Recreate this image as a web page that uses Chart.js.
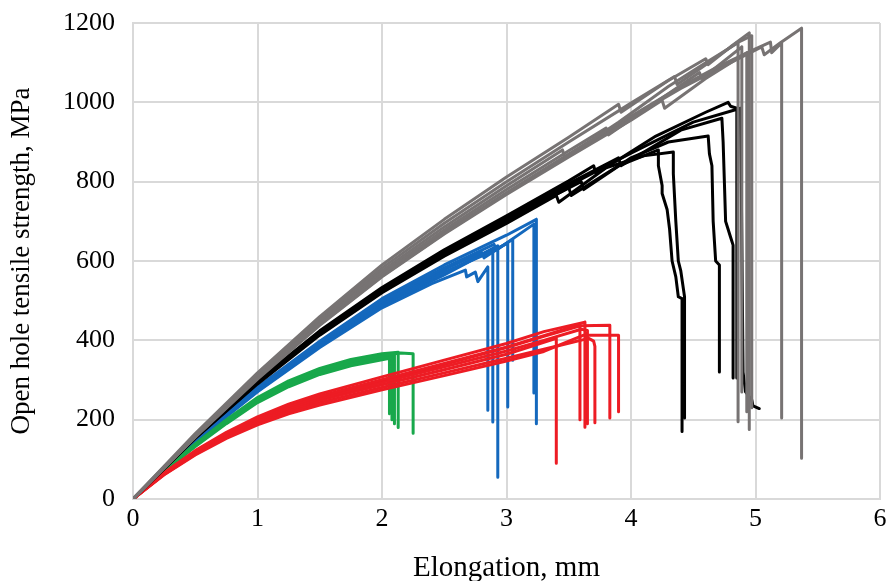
<!DOCTYPE html>
<html><head><meta charset="utf-8">
<script src="https://cdn.jsdelivr.net/npm/chart.js@4/dist/chart.umd.min.js"></script>
<style>html,body{margin:0;padding:0;background:#fff;}#wrap{width:889px;height:581px;position:relative;}</style>
</head><body><div id="wrap"><canvas id="c"></canvas></div>
<script>
// Axis ranges / tick steps
const xRange = [0, 6, 1];
const yRange = [0, 1200, 200];
const xTitle = 'Elongation, mm';
const yTitle = 'Open hole tensile strength, MPa';

// Gray specimens [elongation mm, strength MPa]
const gray1 = [[0,0],[0.5,165],[1,318],[1.5,460],[2,590],[2.5,705],[3,812],[3.5,912],[3.9,995],[3.92,975],[4.3,1055],[4.6,1110],[4.62,1095],[4.8,1140],[4.95,1175],[4.95,175]];
const gray2 = [[0,0],[0.5,162],[1,314],[1.5,455],[2,582],[2.5,695],[3,800],[3.5,900],[4,998],[4.35,1065],[4.37,1045],[4.6,1095],[4.85,1150],[4.97,1168],[4.97,230]];
const gray3 = [[0,0],[0.5,160],[1,310],[1.5,450],[2,575],[2.5,686],[3,790],[3.45,880],[3.47,860],[3.9,950],[4.3,1040],[4.6,1100],[4.86,1150],[4.86,195]];
const gray4 = [[0,0],[0.5,158],[1,306],[1.5,444],[2,568],[2.5,678],[3,780],[3.5,878],[3.8,935],[3.82,918],[4.2,1000],[4.55,1075],[4.57,1060],[4.89,1140],[4.89,270]];
const gray5 = [[0,0],[0.5,156],[1,302],[1.5,438],[2,560],[2.5,668],[3,768],[3.5,862],[4,955],[4.25,1005],[4.27,985],[4.6,1060],[4.93,1125],[4.93,220]];
const gray6 = [[0,0],[0.5,158],[1,305],[1.5,442],[2,565],[2.5,672],[3,772],[3.5,870],[4,965],[4.4,1040],[4.7,1090],[5,1135],[5.12,1152],[5.13,1125],[5.21,1150],[5.21,204]];
const gray7 = [[0,0],[0.5,157],[1,304],[1.5,440],[2,562],[2.5,670],[3,770],[3.5,868],[4,962],[4.4,1035],[4.8,1100],[5.05,1140],[5.07,1120],[5.2,1150],[5.37,1187],[5.37,103]];

// Black specimens
const black1 = [[0,0],[0.5,154],[1,292],[1.5,416],[2,523],[2.5,616],[3,700],[3.5,785],[3.52,765],[3.9,840],[4.22,880],[4.22,840],[4.25,790],[4.25,770],[4.29,730],[4.31,680],[4.33,600],[4.36,560],[4.38,510],[4.41,505],[4.41,170]];
const black2 = [[0,0],[0.5,153],[1,290],[1.5,413],[2,520],[2.5,612],[3,695],[3.4,765],[3.42,748],[3.8,835],[4.1,865],[4.34,875],[4.34,820],[4.36,700],[4.38,600],[4.4,575],[4.43,510],[4.43,204]];
const black3 = [[0,0],[0.5,155],[1,294],[1.5,418],[2,526],[2.5,619],[3,704],[3.6,800],[3.62,780],[4,860],[4.3,900],[4.62,915],[4.63,870],[4.65,840],[4.66,700],[4.68,600],[4.71,590],[4.71,320]];
const black4 = [[0,0],[0.5,156],[1,296],[1.5,421],[2,529],[2.5,623],[3,709],[3.5,795],[3.9,860],[3.92,840],[4.4,930],[4.73,960],[4.74,900],[4.76,700],[4.78,680],[4.8,660],[4.82,640],[4.82,305]];
const black5 = [[0,0],[0.5,157],[1,298],[1.5,424],[2,533],[2.5,628],[3,714],[3.5,802],[3.7,840],[3.72,820],[4.2,915],[4.6,975],[4.78,1000],[4.8,990],[4.85,985],[4.85,305]];
const black6 = [[0,0],[0.5,155],[1,293],[1.5,418],[2,525],[2.5,618],[3,702],[3.5,790],[4,872],[4.5,950],[4.88,985],[4.9,320],[4.92,270],[4.97,250],[4.98,235],[5.03,228]];

// Red specimens
const red1 = [[0,0],[0.25,66],[0.5,122],[0.75,168],[1,207],[1.25,239],[1.5,265],[2,308],[2.5,350],[3,392],[3.3,422],[3.63,446],[3.63,181]];
const red2 = [[0,0],[0.25,65],[0.5,120],[0.75,165],[1,203],[1.25,234],[1.5,259],[2,301],[2.5,342],[3,383],[3.3,412],[3.59,440],[3.59,200]];
const red3 = [[0,0],[0.25,64],[0.5,118],[0.75,162],[1,199],[1.25,229],[1.5,254],[2,294],[2.5,333],[3,373],[3.3,400],[3.6,428],[3.65,425],[3.65,190]];
const red4 = [[0,0],[0.25,63],[0.5,116],[0.75,159],[1,195],[1.25,225],[1.5,249],[2,288],[2.5,326],[3,365],[3.4,405],[3.4,90]];
const red5 = [[0,0],[0.25,62],[0.5,113],[0.75,156],[1,191],[1.25,220],[1.5,243],[2,281],[2.5,318],[3,355],[3.4,385],[3.66,405],[3.7,398],[3.71,385],[3.71,192]];
const red6 = [[0,0],[0.25,65],[0.5,119],[0.75,164],[1,201],[1.25,232],[1.5,257],[2,298],[2.5,339],[3,382],[3.3,410],[3.6,437],[3.83,438],[3.83,204]];
const red7 = [[0,0],[0.25,61],[0.5,111],[0.75,153],[1,187],[1.25,215],[1.5,237],[2,275],[2.5,311],[3,348],[3.3,372],[3.62,413],[3.9,413],[3.9,220]];

// Green specimens
const green1 = [[0,0],[0.25,73],[0.5,137],[0.75,197],[1,252],[1.25,293],[1.5,324],[1.75,347],[2,362],[2.15,368],[2.25,366],[2.25,166]];
const green2 = [[0,0],[0.25,74],[0.5,139],[0.75,200],[1,256],[1.25,298],[1.5,329],[1.75,352],[2,366],[2.13,370],[2.13,180]];
const green3 = [[0,0],[0.25,71],[0.5,134],[0.75,193],[1,246],[1.25,287],[1.5,318],[1.75,340],[2,355],[2.08,360],[2.08,200]];
const green4 = [[0,0],[0.25,72],[0.5,136],[0.75,195],[1,249],[1.25,290],[1.5,321],[1.75,344],[2,358],[2.1,363],[2.1,190]];
const green5 = [[0,0],[0.25,70],[0.5,132],[0.75,190],[1,243],[1.25,283],[1.5,314],[1.75,336],[2,351],[2.06,355],[2.06,215]];

// Blue specimens
const blue1 = [[0,0],[0.5,150],[1,282],[1.5,398],[2,505],[2.5,590],[3,665],[3.24,705],[3.24,190]];
const blue2 = [[0,0],[0.5,149],[1,279],[1.5,395],[2,500],[2.5,583],[2.9,642],[2.92,628],[3.22,693],[3.22,267]];
const blue3 = [[0,0],[0.5,148],[1,277],[1.5,392],[2,497],[2.5,578],[2.8,622],[2.82,608],[3.05,655],[3.05,350]];
const blue4 = [[0,0],[0.5,147],[1,275],[1.5,390],[2,494],[2.5,572],[2.8,612],[3.01,645],[3.01,232]];
const blue5 = [[0,0],[0.5,147],[1,274],[1.5,388],[2,491],[2.5,568],[2.93,638],[2.93,55]];
const blue6 = [[0,0],[0.5,146],[1,272],[1.5,386],[2,488],[2.5,565],[2.89,630],[2.89,194]];
const blue7 = [[0,0],[0.5,145],[1,270],[1.5,382],[2,482],[2.4,543],[2.67,577],[2.68,560],[2.75,572],[2.77,548],[2.85,585],[2.85,224]];

const groups = [
  {color:'#777373', curves:[gray1,gray2,gray3,gray4,gray5,gray6,gray7]},
  {color:'#000000', curves:[black1,black2,black3,black4,black5,black6]},
  {color:'#ED1C24', curves:[red1,red2,red3,red4,red5,red6,red7]},
  {color:'#18A84B', curves:[green1,green2,green3,green4,green5]},
  {color:'#1468BD', curves:[blue1,blue2,blue3,blue4,blue5,blue6,blue7]}
];

const datasets = [];
groups.forEach(g => g.curves.forEach(c => datasets.push({
  data: c.map(p => ({x:p[0], y:p[1]})),
  showLine: true, borderColor: g.color, backgroundColor: g.color,
  borderWidth: 3, pointRadius: 0, tension: 0,
  borderJoinStyle: 'round', borderCapStyle: 'round'
})));

const FONT = "'Liberation Serif', 'Times New Roman', serif";
const gridCol = '#D9D9D9';

new Chart(document.getElementById('c'), {
  type: 'scatter',
  data: { datasets },
  options: {
    responsive: true, maintainAspectRatio: false, animation: false, devicePixelRatio: 1,
    layout: { padding: { top: 23, right: 9, left: 0, bottom: 0 } },
    plugins: { legend: { display: false }, tooltip: { enabled: false } },
    scales: {
      x: {
        type: 'linear', min: xRange[0], max: xRange[1],
        ticks: { stepSize: xRange[2], color: '#000', font: { family: FONT, size: 26 }, padding: 5,
                 callback: v => String(v) },
        grid: { color: gridCol, lineWidth: 2, drawTicks: false },
        border: { display: true, color: gridCol, width: 2 },
        title: { display: true, text: xTitle, color: '#000', font: { family: FONT, size: 29 }, padding: { top: 0, bottom: -5 } },
        afterFit: s => { s.height = 82; s.paddingLeft = 0; s.paddingRight = 0; }
      },
      y: {
        type: 'linear', min: yRange[0], max: yRange[1],
        ticks: { stepSize: yRange[2], color: '#000', font: { family: FONT, size: 26 }, padding: 18,
                 callback: v => String(v) },
        grid: { color: gridCol, lineWidth: 2, drawTicks: false },
        border: { display: true, color: gridCol, width: 2 },
        title: { display: true, text: yTitle, color: '#000', font: { family: FONT, size: 27 }, padding: { top: 6, bottom: 0 } },
        afterFit: s => { s.width = 133; s.paddingTop = 0; s.paddingBottom = 0; }
      }
    }
  }
});
</script></body></html>
